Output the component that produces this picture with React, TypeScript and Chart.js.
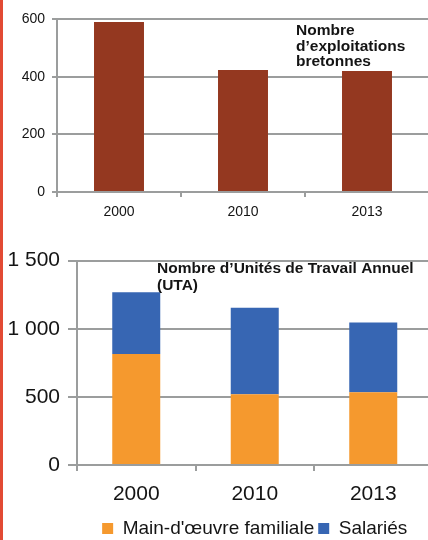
import React, { useEffect, useRef } from 'react';
import { Chart, registerables } from 'chart.js';

Chart.register(...registerables);

// ---- data ----
const years = ['2000', '2010', '2013'];
const exploitations = [590, 423, 420];
const familiale = [815, 519, 534];
const salaries = [452, 635, 512];
const topTicks = [0, 200, 400, 600];
const bottomTicks = [0, 500, 1000, 1500];
const topTitle = ['Nombre', 'd’exploitations', 'bretonnes'];
const bottomTitle = ['Nombre d’Unités de Travail Annuel', '(UTA)'];
const seriesNames = ["Main-d'œuvre familiale", 'Salariés'];

const FONT = '"Liberation Sans", Arial, sans-serif';
const GRID = '#9b9d9d';
const TEXT = '#141414';

const fmt = (v: number) => String(v).replace(/\B(?=(\d{3})+(?!\d))/g, ' ');

const innerTitle = {
  id: 'innerTitle',
  afterDraw(chart: any, _args: any, opts: any) {
    const { ctx } = chart;
    ctx.save();
    ctx.font = `bold ${opts.size}px ${FONT}`;
    ctx.fillStyle = opts.color;
    ctx.textBaseline = 'alphabetic';
    ctx.textAlign = 'left';
    opts.lines.forEach((l: string, i: number) => ctx.fillText(l, opts.x, opts.y + i * opts.lineHeight));
    ctx.restore();
  },
};

export default function App() {
  const topRef = useRef<HTMLCanvasElement>(null);
  const botRef = useRef<HTMLCanvasElement>(null);

  useEffect(() => {
    const top = new Chart(topRef.current as HTMLCanvasElement, {
      type: 'bar',
      data: {
        labels: years,
        datasets: [
          {
            label: 'Exploitations',
            data: exploitations,
            backgroundColor: '#943820',
            categoryPercentage: 1,
            barPercentage: 0.403,
          },
        ],
      },
      options: {
        responsive: false,
        animation: false,
        layout: { padding: { top: 19, right: 3, bottom: 4, left: 0 } },
        plugins: {
          legend: { display: false },
          tooltip: { enabled: false },
          innerTitle: { lines: topTitle, x: 296, y: 35, lineHeight: 15.7, size: 15.5, color: TEXT },
        } as any,
        scales: {
          x: {
            offset: true,
            grid: { display: true, drawOnChartArea: false, drawTicks: true, tickLength: 5, offset: true, color: GRID, lineWidth: 2 },
            border: { display: true, color: GRID, width: 2 },
            ticks: { color: TEXT, font: { family: FONT, size: 14 }, padding: 7 },
            afterFit: (s: any) => { s.height = 34; },
          },
          y: {
            min: topTicks[0],
            max: topTicks[topTicks.length - 1],
            ticks: { stepSize: topTicks[1] - topTicks[0], color: TEXT, font: { family: FONT, size: 14 }, padding: 7, callback: (v: any) => fmt(v) },
            grid: { color: GRID, lineWidth: 2, tickLength: 5 },
            border: { display: true, color: GRID, width: 2 },
            afterFit: (s: any) => { s.width = 57; },
          },
        },
      },
      plugins: [innerTitle],
    } as any);

    const bot = new Chart(botRef.current as HTMLCanvasElement, {
      type: 'bar',
      data: {
        labels: years,
        datasets: [
          {
            label: seriesNames[0],
            data: familiale,
            backgroundColor: '#f5992e',
            categoryPercentage: 1,
            barPercentage: 0.405,
          },
          {
            label: seriesNames[1],
            data: salaries,
            backgroundColor: '#3766b3',
            categoryPercentage: 1,
            barPercentage: 0.405,
          },
        ],
      },
      options: {
        responsive: false,
        animation: false,
        layout: { padding: { top: 17, right: 3.5, bottom: 0, left: 0 } },
        plugins: {
          legend: {
            position: 'bottom',
            fullSize: false,
            labels: { boxWidth: 11, boxHeight: 11, padding: 4, color: TEXT, font: { family: FONT, size: 19 } },
          },
          tooltip: { enabled: false },
          innerTitle: { lines: bottomTitle, x: 157, y: 33.3, lineHeight: 16.3, size: 15.5, color: TEXT },
        } as any,
        scales: {
          x: {
            stacked: true,
            offset: true,
            grid: { display: true, drawOnChartArea: false, drawTicks: true, tickLength: 6, offset: true, color: GRID, lineWidth: 2 },
            border: { display: true, color: GRID, width: 2 },
            ticks: { color: TEXT, font: { family: FONT, size: 21 }, padding: 11 },
            afterFit: (s: any) => { s.height = 50; },
          },
          y: {
            stacked: true,
            min: bottomTicks[0],
            max: bottomTicks[bottomTicks.length - 1],
            ticks: { stepSize: bottomTicks[1] - bottomTicks[0], color: TEXT, font: { family: FONT, size: 21 }, padding: 8, callback: (v: any) => fmt(v) },
            grid: { color: GRID, lineWidth: 2, tickLength: 9 },
            border: { display: true, color: GRID, width: 2 },
            afterFit: (s: any) => { s.width = 77; },
          },
        },
      },
      plugins: [innerTitle],
    } as any);

    return () => {
      top.destroy();
      bot.destroy();
    };
  }, []);

  return (
    <div style={{ position: 'absolute', left: 0, top: 0, width: 428, height: 540, overflow: 'hidden', background: '#fff' }}>
      <canvas ref={topRef} width={432} height={230} style={{ position: 'absolute', left: 0, top: 0 }} />
      <canvas ref={botRef} width={436} height={308} style={{ position: 'absolute', left: 0, top: 240 }} />
      <div style={{ position: 'absolute', left: 0, top: 0, width: 3, height: 540, background: '#e24a34' }} />
    </div>
  );
}
